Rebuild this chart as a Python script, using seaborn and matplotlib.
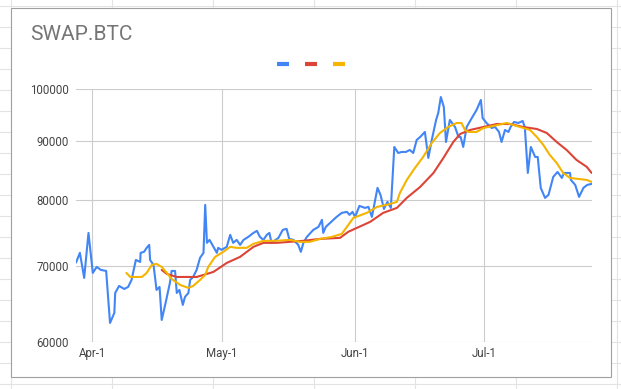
import pandas as pd
import seaborn as sns
import matplotlib.pyplot as plt
from matplotlib.lines import Line2D
from matplotlib.patches import Rectangle
from matplotlib.ticker import NullLocator

# values, x = days after Apr-1
blue_days = [-3.8, -2.9, -1.9, -0.9, 0.1, 1.0, 2.0, 3.2, 4.1, 5.1, 5.3, 6.2, 7.4, 8.3, 9.1,
             10.1, 11.1, 11.2, 12.0, 12.6, 13.2, 13.4, 14.2, 14.9, 15.6, 16.1, 17.0, 18.0, 18.4,
             19.2, 19.6, 20.2, 21.0, 21.5, 22.3, 22.7, 23.4, 24.2, 25.0, 25.8, 26.2, 26.6, 27.2,
             28.1, 28.9, 29.2, 30.0, 31.2, 32.0, 32.7, 33.5, 34.3, 35.1, 36.2, 37.4, 38.2, 38.9,
             39.7, 40.5, 41.1, 41.6, 43.2, 44.2, 45.1, 45.7, 46.7, 47.8, 48.4, 49.0, 49.8, 50.9,
             51.3, 52.5, 53.3, 53.6, 54.2, 55.2, 56.7, 57.9, 59.1, 59.7, 60.4, 61.0, 62.0, 63.3,
             64.1, 64.9, 66.2, 66.9, 67.7, 68.5, 69.3, 70.1, 71.0, 71.8, 72.8, 73.7, 74.5, 75.3,
             76.1, 77.2, 78.0, 78.8, 79.8, 80.3, 80.9, 81.6, 82.1, 83.0, 84.2, 85.0, 85.5, 86.1,
             86.9, 88.1, 89.2, 90.2, 90.6, 91.5, 92.7, 93.5, 94.4, 95.0, 95.8, 96.6, 97.1, 97.9,
             98.9, 99.9, 100.4, 101.1, 101.8, 102.8, 103.4, 104.1, 105.1, 105.9, 107.0, 108.0,
             109.0, 109.5, 110.9, 111.1, 112.1, 113.0, 114.0, 114.9, 115.9]
blue_vals = [70410, 71820, 68270, 74780, 68960, 69800, 69380, 69240, 62320, 63600, 66220, 67170,
             66760, 67030, 67990, 70800, 70510, 71820, 71970, 72550, 72990, 70800, 70080, 66630,
             67030, 62700, 64900, 67580, 69240, 69240, 66220, 66630, 64640, 65690, 66220, 67990,
             68400, 69380, 71100, 71820, 79140, 73290, 73730, 72700, 71820, 72550, 72260, 72700,
             74480, 73290, 73730, 72990, 73730, 74180, 74780, 75090, 74180, 73730, 74480, 74780,
             73290, 74030, 75240, 75390, 73880, 73730, 72990, 71970, 73290, 74180, 74940, 75240,
             75700, 76780, 74780, 75700, 76310, 77240, 77870, 78030, 77560, 78030, 77240, 78980,
             78660, 78820, 77240, 81910, 80760, 78500, 79620, 78660, 88990, 87910, 88090, 88090,
             88450, 87910, 90260, 90800, 91730, 87030, 90260, 93980, 95320, 98450, 96480, 89890,
             93980, 92660, 90800, 90800, 88990, 92660, 94360, 95900, 97860, 94360, 93410, 92470,
             92660, 91730, 89890, 92100, 91730, 92660, 93600, 93410, 93790, 92660, 84430, 88990,
             87210, 87210, 81910, 80270, 80760, 83750, 84600, 83580, 84430, 84430, 83240, 82410,
             80430, 81910, 82410, 82570]

red_days = [16.1, 17.3, 19.6, 21.9, 24.2, 25.8, 28.1, 31.2, 34.3, 37.4, 39.7, 42.8, 45.9, 49.0,
            52.9, 57.5, 59.4, 61.4, 64.5, 67.5, 70.7, 73.0, 76.1, 79.2, 81.5, 83.8, 85.4, 87.7,
            90.8, 93.9, 97.0, 100.0, 103.2, 105.5, 107.8, 110.1, 112.4, 114.8, 115.9]
red_vals = [69380, 68820, 68400, 68400, 68400, 68680, 69100, 70370, 71240, 72700, 73290, 73290,
            73440, 73590, 73880, 74030, 74940, 75540, 76470, 77870, 78660, 80270, 82070, 84430,
            87030, 89890, 91360, 92100, 92660, 93220, 93220, 92660, 92280, 91540, 89890, 88450,
            86680, 85460, 84430]

yellow_days = [7.9, 8.8, 10.3, 11.5, 12.6, 13.8, 14.9, 16.1, 17.3, 18.4, 20.4, 22.3, 23.4, 25.0,
               26.2, 26.9, 28.5, 30.4, 32.0, 33.5, 35.8, 37.4, 39.7, 42.8, 45.9, 48.2, 50.5,
               52.9, 55.6, 57.9, 59.1, 60.6, 63.7, 66.1, 68.3, 70.7, 71.4, 73.0, 74.9, 76.8,
               78.8, 80.7, 82.6, 84.6, 85.7, 86.5, 87.3, 89.2, 90.8, 93.1, 96.2, 99.3, 101.6,
               103.2, 104.7, 106.2, 107.8, 109.3, 110.9, 112.8, 114.8, 115.9]
yellow_vals = [68960, 68400, 68400, 68400, 68960, 70080, 70230, 69800, 68960, 68130, 67300, 66900,
               67170, 67990, 68680, 69800, 71240, 71970, 72700, 72550, 72550, 73140, 73590, 73590,
               73730, 73440, 73440, 73880, 74180, 74630, 75700, 77090, 77870, 78820, 79140, 79620,
               81080, 83240, 85290, 87210, 89710, 91540, 92660, 93410, 93410, 92100, 91730, 91730,
               92470, 92850, 93410, 92660, 92100, 90800, 89350, 87560, 86150, 84430, 83580, 83410,
               83240, 82910]

y_ticks = [60000, 70000, 80000, 90000, 100000]
x_tick_dates = ["2024-04-01", "2024-05-01", "2024-06-01", "2024-07-01"]
x_tick_labels = ["Apr-1", "May-1", "Jun-1", "Jul-1"]

start = pd.Timestamp("2024-04-01")


def to_dates(days):
    return start + pd.to_timedelta(days, unit="D")


sns.set_theme(style="white")
plt.rcParams["font.family"] = ["Roboto", "DejaVu Sans"]

W, H = 621, 389
fig = plt.figure(figsize=(W / 100, H / 100), dpi=100)

# spreadsheet cells behind the chart
for x in range(11, W, 101):
    fig.add_artist(Line2D([x / W, x / W], [0, 1], color="#e2e3e3", lw=0.8, zorder=-3))
for y in range(6, H, 21):
    fig.add_artist(Line2D([0, 1], [1 - y / H, 1 - y / H], color="#e2e3e3", lw=0.8, zorder=-3))
fig.add_artist(Rectangle((10.5 / W, 1 - 377 / H), 600.5 / W, 369.5 / H,
                         transform=fig.transFigure, facecolor="white",
                         edgecolor="#a0a0a0", lw=0.8, zorder=-2))

ax = fig.add_axes([76 / W, 1 - 341.7 / H, 516 / W, 252.4 / H])
ax.set_facecolor("none")

blue, red, yellow = "#4285F4", "#DB4437", "#F4B400"
sns.lineplot(x=to_dates(blue_days), y=blue_vals, ax=ax, color=blue, lw=1.5)
sns.lineplot(x=to_dates(red_days), y=red_vals, ax=ax, color=red, lw=1.5)
sns.lineplot(x=to_dates(yellow_days), y=yellow_vals, ax=ax, color=yellow, lw=1.5)

ax.set_yscale("log")
ax.set_ylim(60000, 100000)
ax.set_yticks(y_ticks)
ax.set_yticklabels([str(t) for t in y_ticks])
ax.yaxis.set_minor_locator(NullLocator())
ax.set_xlim(to_dates(-3.8), to_dates(116))
ax.set_xticks(pd.to_datetime(x_tick_dates))
ax.set_xticklabels(x_tick_labels)
ax.set_xlabel("")
ax.set_ylabel("")

ax.grid(True, color="#cccccc", lw=0.8)
for s in ax.spines.values():
    s.set_visible(False)
ax.tick_params(axis="both", length=0, labelsize=8.3, colors="#444444")
ax.tick_params(axis="y", pad=5)
ax.tick_params(axis="x", pad=4)

fig.text(30 / W, 1 - 35 / H, "SWAP.BTC", fontsize=15, color="#757575", va="center")

handles = [Line2D([], [], color=c, lw=3, solid_capstyle="butt") for c in (blue, red, yellow)]
fig.legend(handles, ["", "", ""], loc="center", bbox_to_anchor=(311 / W, 1 - 64.7 / H),
           ncol=3, frameon=False, fontsize=8, handlelength=1.08, handletextpad=0,
           columnspacing=1.44)

fig.savefig("out.png", dpi=100)
